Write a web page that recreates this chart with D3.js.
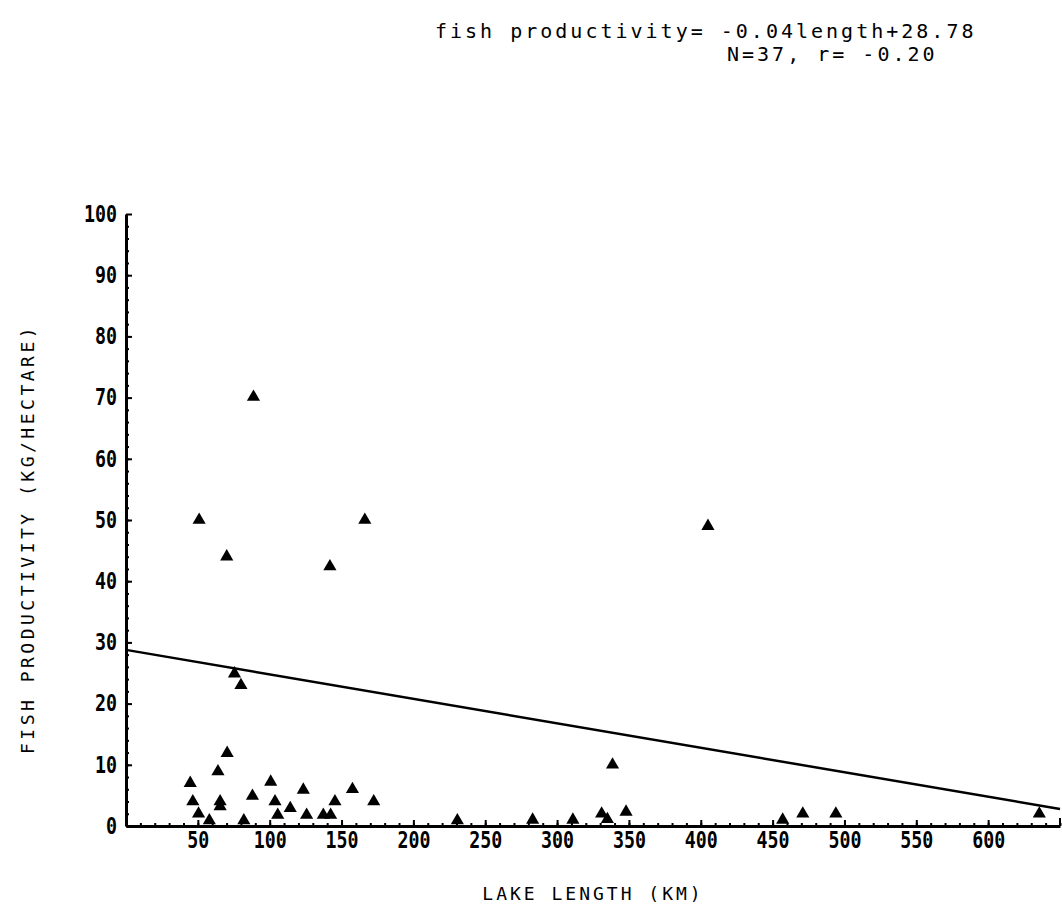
<!DOCTYPE html>
<html>
<head>
<meta charset="utf-8">
<script src="https://cdn.jsdelivr.net/npm/d3@7"></script>
<style>
  html, body { margin: 0; padding: 0; background: #fff; }
  svg { display: block; }
</style>
</head>
<body>
<script>
// ---- data ----
const lakeLength = [44.7, 46.5, 50.5, 58, 64, 65.5, 65.5, 70.4, 82, 88, 100.7, 103.7, 105.6, 114.3, 123.4, 125.7, 137.3, 142.4, 145.4, 157.6, 172.4, 230.6, 283, 311, 331, 335, 348, 338.6, 457, 471, 494, 635.6, 88.7, 50.9, 166.2, 70.1, 141.9, 75.5, 80, 405];
const fishProductivity = [7.0, 4.0, 2.0, 0.9, 8.9, 4.0, 3.2, 11.9, 0.9, 4.9, 7.2, 4.0, 1.8, 2.9, 5.9, 1.8, 1.8, 1.8, 4.0, 6.0, 4.0, 0.9, 1.0, 1.0, 2.0, 1.1, 2.3, 10.0, 1.0, 2.0, 2.0, 2.0, 70.1, 50.0, 50.0, 44.0, 42.4, 24.9, 23.0, 49.0];
const xTickValues = [50, 100, 150, 200, 250, 300, 350, 400, 450, 500, 550, 600];
const yTickValues = [0, 10, 20, 30, 40, 50, 60, 70, 80, 90, 100];
const regressionSlope = -0.04;
const regressionIntercept = 28.78;
const titleLines = ["fish productivity= -0.04length+28.78", "N=37, r= -0.20"];
const xTitle = "LAKE LENGTH (KM)";
const yTitle = "FISH PRODUCTIVITY (KG/HECTARE)";

// ---- layout ----
const W = 1062, H = 910;
const x = d3.scaleLinear().domain([0, 650]).range([126, 1060]);
const y = d3.scaleLinear().domain([0, 100]).range([826, 214]);

const svg = d3.select("body").append("svg").attr("width", W).attr("height", H);

const mono = "'DejaVu Sans Mono', 'Liberation Mono', monospace";

// title
svg.append("text").attr("x", 435).attr("y", 38)
  .attr("font-family", mono).attr("font-size", 20).attr("letter-spacing", 3).attr("fill", "#000")
  .text(titleLines[0]);
svg.append("text").attr("x", 727).attr("y", 61)
  .attr("font-family", mono).attr("font-size", 20).attr("letter-spacing", 3).attr("fill", "#000")
  .text(titleLines[1]);

// minor ticks
const xMinor = d3.range(10, 651, 10);
const yMinor = d3.range(2, 100, 2);
svg.append("g").attr("transform", `translate(0,${y(0)})`)
  .call(d3.axisBottom(x).tickValues(xMinor).tickSize(-3).tickFormat("").tickSizeOuter(0))
  .call(g => g.select(".domain").remove())
  .call(g => g.selectAll("line").attr("stroke", "#000").attr("stroke-width", 2));
svg.append("g").attr("transform", `translate(${x(0)},0)`)
  .call(d3.axisLeft(y).tickValues(yMinor).tickSize(-3).tickFormat("").tickSizeOuter(0))
  .call(g => g.select(".domain").remove())
  .call(g => g.selectAll("line").attr("stroke", "#000").attr("stroke-width", 2));

// major axes
const styleTickText = sel => sel
  .attr("font-family", mono).attr("font-weight", "bold").attr("font-size", 23)
  .attr("fill", "#000")
  .attr("textLength", function() { return this.textContent.length * 11; })
  .attr("lengthAdjust", "spacingAndGlyphs");

svg.append("g").attr("transform", `translate(0,${y(0)})`)
  .call(d3.axisBottom(x).tickValues(xTickValues).tickSize(-6).tickPadding(6).tickSizeOuter(0))
  .call(g => g.select(".domain").attr("stroke", "#000").attr("stroke-width", 3))
  .call(g => g.selectAll("line").attr("stroke", "#000").attr("stroke-width", 2))
  .call(g => g.selectAll("text").call(styleTickText));

svg.append("g").attr("transform", `translate(${x(0)},0)`)
  .call(d3.axisLeft(y).tickValues(yTickValues).tickSize(-6).tickPadding(9).tickSizeOuter(0))
  .call(g => g.select(".domain").attr("stroke", "#000").attr("stroke-width", 3))
  .call(g => g.selectAll("line").attr("stroke", "#000").attr("stroke-width", 2))
  .call(g => g.selectAll("text").call(styleTickText));

// right end cap of x axis
svg.append("line").attr("x1", x(650)).attr("x2", x(650)).attr("y1", y(0)).attr("y2", y(0) - 8)
  .attr("stroke", "#000").attr("stroke-width", 2);

// regression line
const lineX = [0, 650];
svg.append("path")
  .datum(lineX)
  .attr("d", d3.line().x(d => x(d)).y(d => y(regressionIntercept + regressionSlope * d)))
  .attr("fill", "none").attr("stroke", "#000").attr("stroke-width", 2.5);

// points
const pts = lakeLength.map((v, i) => ({ len: v, prod: fishProductivity[i] }));
svg.append("g").selectAll("path").data(pts).join("path")
  .attr("transform", d => `translate(${x(d.len)},${y(d.prod)})`)
  .attr("d", d3.symbol().type(d3.symbolTriangle).size(75))
  .attr("fill", "#000");

// axis titles
svg.append("text").attr("x", 593).attr("y", 900).attr("text-anchor", "middle")
  .attr("font-family", mono).attr("font-size", 18).attr("letter-spacing", 3)
  .attr("fill", "#000").text(xTitle);
svg.append("text").attr("transform", "translate(34,539) rotate(-90)")
  .attr("text-anchor", "middle")
  .attr("font-family", mono).attr("font-size", 18).attr("letter-spacing", 3.5)
  .attr("fill", "#000").text(yTitle);
</script>
</body>
</html>
